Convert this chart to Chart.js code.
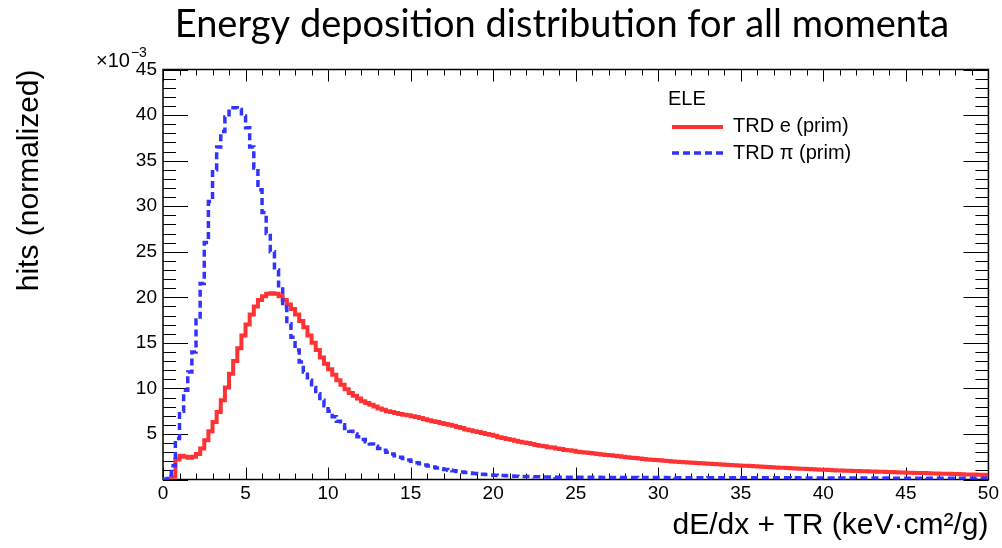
<!DOCTYPE html>
<html>
<head>
<meta charset="utf-8">
<script src="https://cdn.jsdelivr.net/npm/chart.js@4.4.1/dist/chart.umd.min.js"></script>
<style>
html,body{margin:0;padding:0;background:#fff;}
#wrap{width:1002px;height:548px;position:relative;}
canvas{display:block;}
</style>
</head>
<body>
<div id="wrap"><canvas id="c" width="1002" height="548"></canvas></div>
<script>
// ---- Texts ----
const TITLE = 'Energy deposition distribution for all momenta';
const X_TITLE = 'dE/dx + TR (keV\u00B7cm\u00B2/g)';
const Y_TITLE = 'hits (normalized)';
const Y_EXPONENT = ['\u00D710', '\u22123'];
const LEGEND_HEADER = 'ELE';
const SERIES_NAMES = ['TRD e (prim)', 'TRD \u03C0 (prim)'];

// ---- Axes ----
const X_RANGE = [0, 50];
const Y_RANGE = [0, 45];
const X_TICK_LABELS = [0, 5, 10, 15, 20, 25, 30, 35, 40, 45, 50];
const Y_TICK_LABELS = [5, 10, 15, 20, 25, 30, 35, 40, 45];
const BIN_WIDTH = 0.25;

// ---- Series values (units of 1e-3), one value per 0.25-wide bin from 0 to 50 ----
const electronHits = [
0, 0, 0.3, 2.2, 2.6, 2.5, 2.4, 2.5, 2.8, 3.4,
4.3, 5.3, 6.3, 7.4, 8.7, 10.1, 11.6, 13.0, 14.4, 15.8,
17.0, 18.1, 19.0, 19.7, 20.1, 20.4, 20.45, 20.4, 20.1, 19.7,
19.2, 18.7, 18.1, 17.4, 16.7, 15.8, 15.0, 14.2, 13.4, 12.7,
12.1, 11.5, 10.9, 10.4, 9.9, 9.5, 9.2, 8.9, 8.6, 8.4,
8.2, 8.0, 7.8, 7.65, 7.5, 7.4, 7.3, 7.2, 7.1, 7.05,
6.95, 6.85, 6.75, 6.6, 6.5, 6.4, 6.3, 6.2, 6.1, 6.0,
5.9, 5.75, 5.65, 5.5, 5.4, 5.3, 5.2, 5.1, 5.0, 4.9,
4.8, 4.65, 4.55, 4.45, 4.35, 4.25, 4.15, 4.05, 4.0, 3.9,
3.8, 3.7, 3.65, 3.55, 3.5, 3.4, 3.35, 3.25, 3.2, 3.15,
3.05, 3.0, 2.95, 2.9, 2.85, 2.8, 2.75, 2.7, 2.65, 2.6,
2.55, 2.5, 2.45, 2.4, 2.35, 2.3, 2.25, 2.2, 2.17, 2.13,
2.1, 2.06, 2.02, 1.98, 1.95, 1.92, 1.89, 1.86, 1.83, 1.8,
1.77, 1.75, 1.72, 1.7, 1.67, 1.65, 1.62, 1.6, 1.57, 1.55,
1.52, 1.5, 1.47, 1.45, 1.42, 1.4, 1.37, 1.35, 1.33, 1.3,
1.28, 1.26, 1.23, 1.21, 1.19, 1.17, 1.14, 1.12, 1.1, 1.08,
1.06, 1.04, 1.02, 1.0, 0.99, 0.97, 0.96, 0.94, 0.93, 0.91,
0.9, 0.88, 0.87, 0.85, 0.84, 0.82, 0.81, 0.79, 0.78, 0.76,
0.75, 0.74, 0.72, 0.71, 0.7, 0.68, 0.67, 0.66, 0.64, 0.63,
0.62, 0.6, 0.59, 0.58, 0.56, 0.55, 0.54, 0.53, 0.52, 0.5
];
const pionHits = [
0, 0.1, 1.5, 4.5, 7.5, 9.8, 11.8, 14.0, 17.5, 21.5,
26.0, 30.5, 34.0, 36.5, 38.2, 39.8, 40.8, 40.8, 40.6, 39.9,
38.6, 36.5, 34.2, 31.8, 29.3, 27.0, 25.0, 23.0, 20.9, 18.9,
17.1, 15.6, 14.2, 12.9, 11.8, 10.9, 10.1, 9.4, 8.7, 8.1,
7.5, 6.9, 6.4, 6.0, 5.6, 5.3, 5.0, 4.7, 4.4, 4.15,
3.9, 3.65, 3.4, 3.2, 3.0, 2.8, 2.6, 2.45, 2.3, 2.15,
2.0, 1.85, 1.72, 1.6, 1.48, 1.37, 1.27, 1.18, 1.1, 1.02,
0.95, 0.88, 0.82, 0.76, 0.71, 0.66, 0.62, 0.58, 0.54, 0.5,
0.47, 0.45, 0.43, 0.41, 0.39, 0.37, 0.35, 0.34, 0.32, 0.31,
0.3, 0.29, 0.28, 0.27, 0.27, 0.26, 0.26, 0.25, 0.25, 0.25,
0.24, 0.25, 0.24, 0.24, 0.23, 0.24, 0.23, 0.23, 0.23, 0.22,
0.23, 0.22, 0.22, 0.22, 0.22, 0.21, 0.22, 0.21, 0.21, 0.21,
0.21, 0.21, 0.2, 0.21, 0.2, 0.2, 0.2, 0.2, 0.2, 0.2,
0.2, 0.19, 0.2, 0.19, 0.19, 0.19, 0.19, 0.19, 0.19, 0.19,
0.19, 0.18, 0.19, 0.18, 0.18, 0.18, 0.18, 0.18, 0.18, 0.18,
0.18, 0.18, 0.17, 0.18, 0.17, 0.17, 0.17, 0.17, 0.17, 0.17,
0.17, 0.17, 0.17, 0.16, 0.17, 0.16, 0.16, 0.16, 0.16, 0.16,
0.16, 0.16, 0.16, 0.16, 0.15, 0.16, 0.15, 0.15, 0.15, 0.15,
0.15, 0.15, 0.15, 0.15, 0.15, 0.14, 0.15, 0.14, 0.14, 0.14,
0.14, 0.14, 0.14, 0.14, 0.14, 0.14, 0.13, 0.14, 0.13, 0.13
];

// ---- Styles ----
const RED = '#ff3333';
const BLUE = '#3333ff';
const AXIS_FONT = 'Liberation Sans';

function toSteps(values) {
  const pts = values.map((v, i) => ({ x: X_RANGE[0] + i * BIN_WIDTH, y: v }));
  pts.push({ x: X_RANGE[0] + values.length * BIN_WIDTH, y: values[values.length - 1] });
  return pts;
}

const rootDecor = {
  id: 'rootDecor',
  afterLayout(chart) {
    const tb = chart.titleBlock;
    if (tb) { tb.left = 124; tb.right = 1000; tb.width = tb.right - tb.left; }
  },
  beforeDatasetsDraw(chart) {
    const { ctx, chartArea: { left, right, top, bottom }, scales: { x, y } } = chart;
    ctx.save();
    ctx.strokeStyle = '#000';
    ctx.lineWidth = 1;
    ctx.beginPath();
    for (let v = X_RANGE[0]; v <= X_RANGE[1]; v += 1) {
      const px = Math.round(x.getPixelForValue(v)) + 0.5;
      const len = v % 5 === 0 ? 12 : 6;
      ctx.moveTo(px, bottom); ctx.lineTo(px, bottom - len);
      ctx.moveTo(px, top); ctx.lineTo(px, top + len);
    }
    for (let v = Y_RANGE[0]; v <= Y_RANGE[1]; v += 1) {
      const py = Math.round(y.getPixelForValue(v)) + 0.5;
      const len = v % 5 === 0 ? 25 : 13;
      ctx.moveTo(left, py); ctx.lineTo(left + len, py);
      ctx.moveTo(right, py); ctx.lineTo(right - len, py);
    }
    ctx.stroke();
    ctx.lineWidth = 1.5;
    ctx.strokeRect(left, top, right - left, bottom - top);
    ctx.restore();
  },
  afterDraw(chart) {
    const { ctx } = chart;
    ctx.save();
    ctx.fillStyle = '#000';
    // exponent label
    ctx.textBaseline = 'alphabetic';
    ctx.textAlign = 'left';
    ctx.font = '20px "' + AXIS_FONT + '"';
    ctx.fillText(Y_EXPONENT[0], 96, 67);
    const w = ctx.measureText(Y_EXPONENT[0]).width;
    ctx.font = '14px "' + AXIS_FONT + '"';
    ctx.fillText(Y_EXPONENT[1], 96 + w + 1, 57);
    // legend
    ctx.font = '20px "' + AXIS_FONT + '"';
    ctx.fillText(LEGEND_HEADER, 668, 105);
    ctx.fillText(SERIES_NAMES[0], 733, 131.5);
    ctx.fillText(SERIES_NAMES[1], 733, 158.5);
    ctx.lineCap = 'butt';
    ctx.strokeStyle = RED;
    ctx.lineWidth = 4;
    ctx.beginPath(); ctx.moveTo(672, 127); ctx.lineTo(723, 127); ctx.stroke();
    ctx.strokeStyle = BLUE;
    ctx.lineWidth = 3.5;
    ctx.setLineDash([7, 4]);
    ctx.beginPath(); ctx.moveTo(672, 153); ctx.lineTo(723, 153); ctx.stroke();
    ctx.restore();
  }
};

new Chart(document.getElementById('c'), {
  type: 'line',
  data: {
    datasets: [
      {
        label: SERIES_NAMES[0],
        data: toSteps(electronHits),
        borderColor: RED,
        backgroundColor: RED,
        borderWidth: 4,
        stepped: true,
        pointRadius: 0,
        fill: false,
        order: 1
      },
      {
        label: SERIES_NAMES[1],
        data: toSteps(pionHits),
        borderColor: BLUE,
        backgroundColor: BLUE,
        borderWidth: 3.5,
        borderDash: [7, 4],
        stepped: true,
        pointRadius: 0,
        fill: false,
        order: 0
      }
    ]
  },
  options: {
    responsive: false,
    animation: false,
    devicePixelRatio: 1,
    layout: { padding: { left: 0, right: 13, top: 0, bottom: 0 } },
    plugins: {
      legend: { display: false },
      tooltip: { enabled: false },
      title: {
        display: true,
        text: TITLE,
        fullSize: false,
        color: '#000',
        font: { family: 'Lato', size: 38, weight: 'normal' },
        padding: { top: 2, bottom: 21.9 }
      }
    },
    scales: {
      x: {
        type: 'linear',
        min: X_RANGE[0],
        max: X_RANGE[1],
        afterBuildTicks: (s) => { s.ticks = X_TICK_LABELS.map(v => ({ value: v })); },
        ticks: { font: { family: AXIS_FONT, size: 19 }, color: '#000', padding: 3, maxRotation: 0, autoSkip: false },
        grid: { display: false, drawTicks: false },
        border: { display: false },
        title: {
          display: true, text: X_TITLE, align: 'end', color: '#000',
          font: { family: AXIS_FONT, size: 30 }, padding: { top: 0, bottom: 4 }
        },
        afterFit: (s) => { s.height = 68.5; }
      },
      y: {
        type: 'linear',
        min: Y_RANGE[0],
        max: Y_RANGE[1],
        afterBuildTicks: (s) => { s.ticks = Y_TICK_LABELS.map(v => ({ value: v })); },
        ticks: { font: { family: AXIS_FONT, size: 19 }, color: '#000', padding: 6, autoSkip: false },
        grid: { display: false, drawTicks: false },
        border: { display: false },
        title: {
          display: true, text: Y_TITLE, align: 'end', color: '#000',
          font: { family: AXIS_FONT, size: 30 }, padding: { top: 12, bottom: 0 }
        },
        afterFit: (s) => { s.width = 163; }
      }
    }
  },
  plugins: [rootDecor]
});
</script>
</body>
</html>
